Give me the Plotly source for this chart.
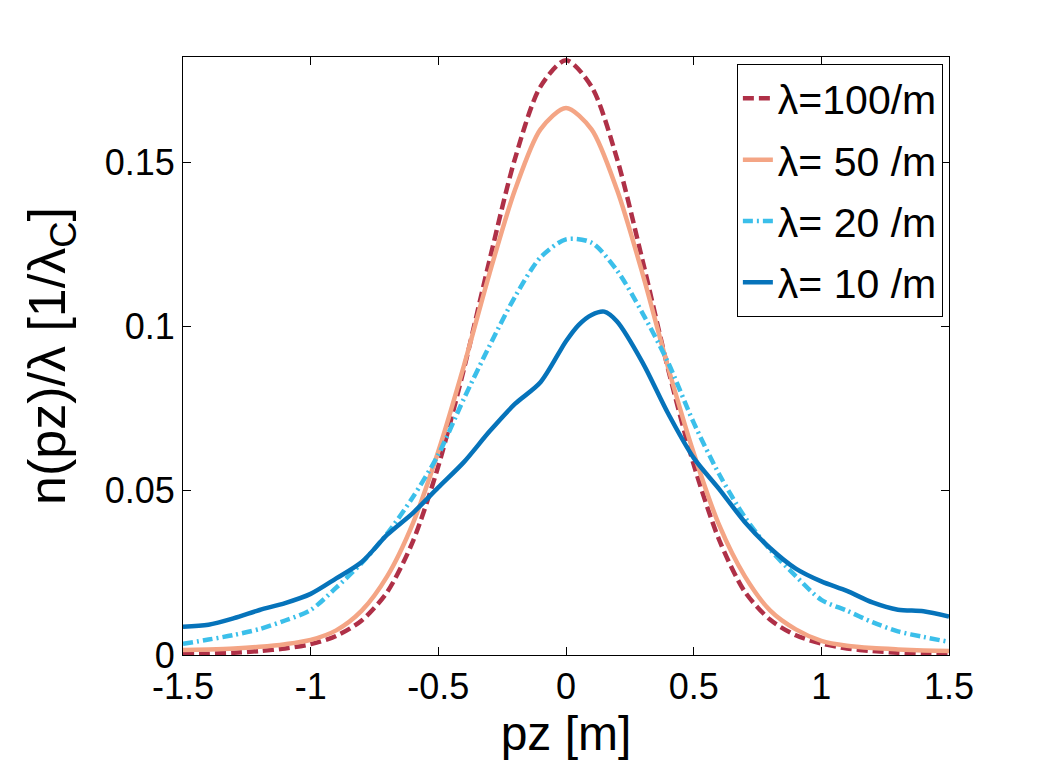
import plotly.graph_objects as go

# momentum grid (pz in m) and densities
pz = [-1.5, -1.4, -1.3, -1.2, -1.1, -1.0, -0.9, -0.8, -0.7, -0.6, -0.5, -0.4, -0.3, -0.2, -0.1,
      0.0, 0.1, 0.2, 0.3, 0.4, 0.5, 0.6, 0.7, 0.8, 0.9, 1.0, 1.1, 1.2, 1.3, 1.4, 1.5]

n_100 = [0.0003, 0.0004, 0.0007, 0.0012, 0.0020, 0.0033, 0.0058, 0.0105, 0.0192, 0.0345, 0.0575,
         0.0870, 0.1200, 0.1510, 0.1730, 0.1810, 0.1730, 0.1510, 0.1200, 0.0870, 0.0580,
         0.0350, 0.0193, 0.0107, 0.0060, 0.0035, 0.0020, 0.0012, 0.0007, 0.0004, 0.0003]

n_50 = [0.0015, 0.0017, 0.0020, 0.0025, 0.0033, 0.0046, 0.0075, 0.0135, 0.0240, 0.0400, 0.0620,
        0.0880, 0.1160, 0.1415, 0.1600, 0.1665, 0.1600, 0.1415, 0.1160, 0.0875, 0.0615,
        0.0395, 0.0240, 0.0135, 0.0078, 0.0043, 0.0028, 0.0021, 0.0017, 0.0014, 0.0012]

n_20 = [0.0034, 0.0047, 0.0061, 0.0079, 0.0105, 0.0137, 0.0205, 0.0280, 0.0370, 0.0480, 0.0610,
        0.0780, 0.0940, 0.1090, 0.1210, 0.1265, 0.1255, 0.1170, 0.1040, 0.0890, 0.0707,
        0.0550, 0.0420, 0.0320, 0.0240, 0.0168, 0.0135, 0.0100, 0.0072, 0.0055, 0.0040]

pz_10 = [-1.5, -1.4, -1.3, -1.2, -1.1, -1.0, -0.9, -0.8, -0.7, -0.6, -0.5, -0.4, -0.3, -0.2, -0.1,
         0.0, 0.05, 0.1, 0.15, 0.2, 0.3, 0.4, 0.5, 0.6, 0.7, 0.8, 0.9, 1.0, 1.1, 1.2, 1.3, 1.4, 1.5]
n_10 = [0.0086, 0.0092, 0.0112, 0.0137, 0.0158, 0.0186, 0.0233, 0.0283, 0.0366, 0.0432, 0.0510,
        0.0587, 0.0680, 0.0764, 0.0830, 0.0955, 0.1005, 0.1035, 0.1045, 0.1015, 0.0890,
        0.0735, 0.0600, 0.0505, 0.0405, 0.0325, 0.0263, 0.0224, 0.0195, 0.0160, 0.0138,
        0.0133, 0.0117]

names = ["λ=100/m", "λ= 50 /m", "λ= 20 /m", "λ= 10 /m"]
colors = ["#AF3047", "#F4A585", "#3BBFEA", "#0673BA"]
dashes = ["11px,5px", "solid", "10px,4px,2px,4px", "solid"]

xs = [pz, pz, pz, pz_10]
ys = [n_100, n_50, n_20, n_10]

fig = go.Figure()
for x, y, name, c, d in zip(xs, ys, names, colors, dashes):
    fig.add_trace(go.Scatter(x=x, y=y, mode="lines", name=name, legendgroup=name,
                             line=dict(color=c, width=4.5, dash=d, shape="spline", smoothing=0.8)))

axis_style = dict(showline=True, linecolor="black", linewidth=1, mirror="ticks",
                  ticks="inside", ticklen=8, tickcolor="black", showgrid=False, zeroline=False,
                  tickfont=dict(size=36, color="black"))

fig.update_xaxes(range=[-1.5, 1.5], tickvals=[-1.5, -1, -0.5, 0, 0.5, 1, 1.5],
                 ticktext=["-1.5", "-1", "-0.5", "0", "0.5", "1", "1.5"],
                 title=dict(text="pz [m]", font=dict(size=48, color="black"), standoff=4),
                 **axis_style)
fig.update_yaxes(range=[0, 0.182], tickvals=[0, 0.05, 0.1, 0.15],
                 ticktext=["0", "0.05", "0.1", "0.15"],
                 title=dict(text="n(pz)/λ [1/λ<sub>C</sub>]", font=dict(size=52, color="black"), standoff=22),
                 **axis_style)

# margins shifted by the page's 8px body offset so the plot box lands where the original's does
fig.update_layout(
    width=1049, height=766,
    font=dict(family="Liberation Sans, Arial, sans-serif", color="black"),
    plot_bgcolor="white", paper_bgcolor="white",
    margin=dict(l=175, r=108, t=49, b=119),
    legend=dict(x=0.992, y=0.988, xanchor="right", yanchor="top",
                bgcolor="white", bordercolor="black", borderwidth=1,
                traceorder="grouped", tracegroupgap=5,
                font=dict(size=41, color="black")),
)

fig.write_html("out.html")
